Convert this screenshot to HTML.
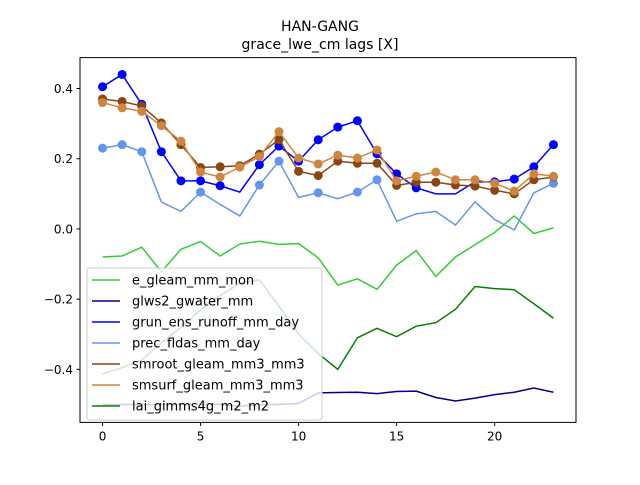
<!DOCTYPE html>
<html><head><meta charset="utf-8"><style>
body{margin:0;background:#fff;font-family:"Liberation Sans","DejaVu Sans",sans-serif}
</style></head><body>
<svg id="chart" width="640" height="480" xmlns="http://www.w3.org/2000/svg" font-family="DejaVu Sans, Liberation Sans, sans-serif">
<rect width="640" height="480" fill="#fff"/>
<text x="320" y="31" text-anchor="middle" font-size="14">HAN-GANG</text>
<text x="320" y="49" text-anchor="middle" font-size="14">grace_lwe_cm lags [X]</text>
<g id="plot"></g>
<g id="axes"></g>
<g id="legend"></g>
</svg>
<script>
const lags=[0,1,2,3,4,5,6,7,8,9,10,11,12,13,14,15,16,17,18,19,20,21,22,23];
const xTicks=[0,5,10,15,20];
const yTicks=[-0.4,-0.2,0.0,0.2,0.4];
const yTickLabels=["−0.4","−0.2","0.0","0.2","0.4"];
const seriesNames=["e_gleam_mm_mon","glws2_gwater_mm","grun_ens_runoff_mm_day","prec_fldas_mm_day","smroot_gleam_mm3_mm3","smsurf_gleam_mm3_mm3","lai_gimms4g_m2_m2"];
const seriesColors=["#32cd32","#00008b","#0000ff","#6495ed","#8b4513","#cd853f","#008000"];
const eGleam=[-0.08,-0.077,-0.052,-0.122,-0.058,-0.036,-0.077,-0.043,-0.035,-0.044,-0.042,-0.082,-0.16,-0.142,-0.172,-0.103,-0.062,-0.135,-0.08,-0.045,-0.01,0.037,-0.013,0.003];
const glws2=[-0.5,-0.5,-0.5,-0.5,-0.5,-0.5,-0.5,-0.505,-0.5,-0.5,-0.497,-0.467,-0.466,-0.465,-0.469,-0.463,-0.462,-0.48,-0.49,-0.482,-0.472,-0.465,-0.453,-0.465];
const grun=[0.405,0.44,0.355,0.22,0.137,0.137,0.123,0.105,0.183,0.236,0.193,0.254,0.29,0.308,0.214,0.157,0.117,0.1,0.1,0.134,0.134,0.142,0.177,0.24];
const prec=[0.23,0.24,0.22,0.077,0.05,0.105,0.07,0.037,0.125,0.193,0.09,0.103,0.086,0.105,0.14,0.022,0.043,0.05,0.011,0.077,0.027,-0.003,0.103,0.13];
const smroot=[0.37,0.363,0.35,0.302,0.24,0.175,0.177,0.18,0.213,0.254,0.164,0.152,0.193,0.187,0.187,0.124,0.133,0.133,0.125,0.122,0.11,0.1,0.14,0.148];
const smsurf=[0.36,0.345,0.335,0.294,0.25,0.162,0.148,0.176,0.206,0.277,0.202,0.185,0.21,0.202,0.225,0.137,0.15,0.162,0.14,0.14,0.13,0.108,0.157,0.15];
const lai=[-0.413,-0.395,-0.373,-0.325,-0.28,-0.23,-0.19,-0.155,-0.145,-0.22,-0.3,-0.355,-0.4,-0.31,-0.283,-0.307,-0.277,-0.267,-0.229,-0.164,-0.17,-0.173,-0.213,-0.254];
const grunMarkers=[0,1,2,3,4,5,6,8,9,10,11,12,13,14,15,16,20,21,22,23];
const precMarkers=[0,1,2,5,8,9,11,13,14,23];
const smrootMarkers=lags;
const smsurfMarkers=lags;

const NS="http://www.w3.org/2000/svg";
const L=80,R=576,T=57.6,B=422.4,xmin=-1.15,xmax=24.15,ymin=-0.551,ymax=0.488;
const sx=v=>L+(v-xmin)/(xmax-xmin)*(R-L);
const sy=v=>B-(v-ymin)/(ymax-ymin)*(B-T);
function mk(tag,attrs,parent){const e=document.createElementNS(NS,tag);for(const k in attrs)e.setAttribute(k,attrs[k]);parent.appendChild(e);return e;}
const plot=document.getElementById('plot'),axes=document.getElementById('axes'),leg=document.getElementById('legend');
const data=[eGleam,glws2,grun,prec,smroot,smsurf,lai];
const markers=[null,null,grunMarkers,precMarkers,smrootMarkers,smsurfMarkers,null];
data.forEach((vals,i)=>{
  const line=mk('polyline',{points:vals.map((v,j)=>sx(lags[j])+','+sy(v)).join(' '),fill:'none',stroke:seriesColors[i],'stroke-width':1.5},plot);
  
  
  if(markers[i]) markers[i].forEach(j=>{
    const c=mk('circle',{cx:sx(lags[j]),cy:sy(vals[j]),r:4.5,fill:seriesColors[i]},plot);
    
    
  });
});
const frame=mk('rect',{x:L,y:T,width:R-L,height:B-T,fill:'none',stroke:'#000','stroke-width':1},axes);


xTicks.forEach(t=>{
  mk('line',{x1:sx(t),x2:sx(t),y1:B,y2:B+3.5,stroke:'#000'},axes);
  const tx=mk('text',{x:sx(t),y:B+18,'text-anchor':'middle','font-size':12},axes);
  tx.textContent=t;
  
  
});
yTicks.forEach((t,i)=>{
  mk('line',{x1:L-3.5,x2:L,y1:sy(t),y2:sy(t),stroke:'#000'},axes);
  const tx=mk('text',{x:L-7,y:sy(t)+4.5,'text-anchor':'end','font-size':12},axes);
  tx.textContent=yTickLabels[i];
  
  
});
const lb=mk('rect',{x:87,y:268,width:235,height:152,rx:3,fill:'#fff','fill-opacity':0.8,stroke:'#ccc'},leg);


seriesNames.forEach((n,i)=>{
  const y=280+i*21;
  mk('line',{x1:92,x2:120,y1:y,y2:y,stroke:seriesColors[i],'stroke-width':1.5},leg);
  const tx=mk('text',{x:132,y:y+4.5,'font-size':13},leg);
  tx.textContent=n;
  
  
});
</script>
</body></html>
